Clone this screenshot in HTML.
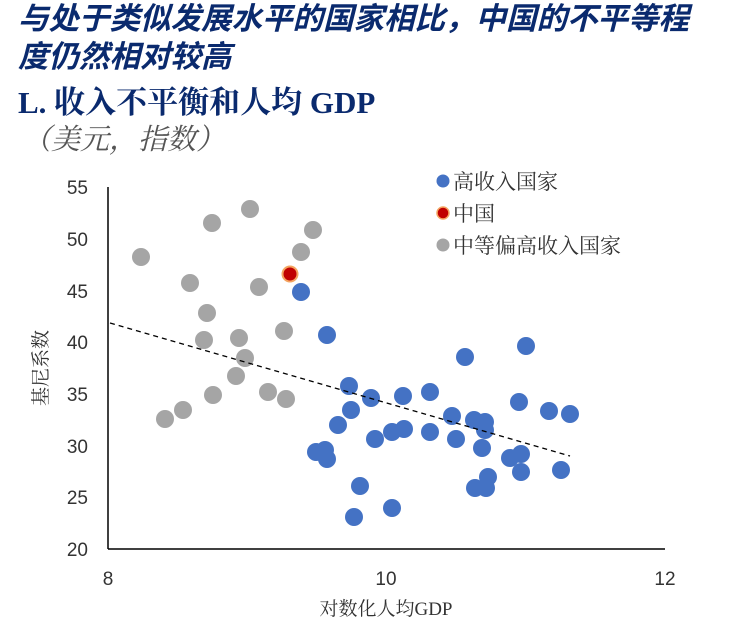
<!DOCTYPE html>
<html><head><meta charset="utf-8"><style>
body{margin:0;background:#fff;width:734px;height:623px;overflow:hidden;font-family:"Liberation Serif","Noto Serif CJK SC",serif}
.t{position:absolute;left:18px;color:#0a2a6e;font-weight:bold;font-style:italic;font-size:30.5px;font-family:"Liberation Sans","Noto Sans CJK SC",sans-serif;white-space:nowrap;line-height:38px}
</style></head><body>
<div class="t" style="top:0px">与处于类似发展水平的国家相比，中国的不平等程</div>
<div class="t" style="top:38px">度仍然相对较高</div>
<div style="position:absolute;left:18px;top:77px;font-size:31px;font-weight:bold;color:#0a2a6e;font-family:'Liberation Serif','Noto Serif CJK SC',serif;white-space:nowrap">L. 收入不平衡和人均 GDP</div>
<div style="position:absolute;left:22px;top:117px;font-size:29px;font-style:italic;color:#555;font-family:'Liberation Serif','Noto Serif CJK SC',serif;white-space:nowrap">（美元，指数）</div>
<svg width="734" height="623" style="position:absolute;left:0;top:0" font-family="Liberation Sans, Noto Sans CJK SC, sans-serif">
<g stroke="#000" stroke-width="1.5"><line x1="108" y1="187" x2="108" y2="549"/><line x1="108" y1="549" x2="665" y2="549"/></g>
<g font-size="19" fill="#333" text-anchor="end">
<text x="88" y="194">55</text><text x="88" y="246">50</text><text x="88" y="298">45</text><text x="88" y="349">40</text><text x="88" y="401">35</text><text x="88" y="453">30</text><text x="88" y="504">25</text><text x="88" y="556">20</text></g>
<g font-size="19" fill="#333" text-anchor="middle"><text x="108" y="585">8</text><text x="386" y="585">10</text><text x="665" y="585">12</text>
<text x="386" y="615" font-size="19" font-family="Liberation Serif, Noto Serif CJK SC, serif">对数化人均GDP</text></g>
<text transform="translate(47,368) rotate(-90)" font-size="19" fill="#333" text-anchor="middle" font-family="Liberation Serif, Noto Serif CJK SC, serif">基尼系数</text>
<g fill="#a5a5a5">
<circle cx="141" cy="257" r="9"/><circle cx="212" cy="223" r="9"/><circle cx="250" cy="209" r="9"/><circle cx="313" cy="230" r="9"/><circle cx="301" cy="252" r="9"/><circle cx="190" cy="283" r="9"/><circle cx="259" cy="287" r="9"/><circle cx="207" cy="313" r="9"/><circle cx="204" cy="340" r="9"/><circle cx="239" cy="338" r="9"/><circle cx="284" cy="331" r="9"/><circle cx="245" cy="358" r="9"/><circle cx="236" cy="376" r="9"/><circle cx="213" cy="395" r="9"/><circle cx="268" cy="392" r="9"/><circle cx="286" cy="399" r="9"/><circle cx="183" cy="410" r="9"/><circle cx="165" cy="419" r="9"/>
</g>
<g fill="#4472c4">
<circle cx="301" cy="292" r="9"/><circle cx="327" cy="335" r="9"/><circle cx="465" cy="357" r="9"/><circle cx="526" cy="346" r="9"/><circle cx="349" cy="386" r="9"/><circle cx="371" cy="398" r="9"/><circle cx="403" cy="396" r="9"/><circle cx="430" cy="392" r="9"/><circle cx="351" cy="410" r="9"/><circle cx="338" cy="425" r="9"/><circle cx="316" cy="452" r="9"/><circle cx="325" cy="450" r="9"/><circle cx="327" cy="459" r="9"/><circle cx="375" cy="439" r="9"/><circle cx="392" cy="432" r="9"/><circle cx="404" cy="429" r="9"/><circle cx="430" cy="432" r="9"/><circle cx="452" cy="416" r="9"/><circle cx="456" cy="439" r="9"/><circle cx="474" cy="420" r="9"/><circle cx="485" cy="422" r="9"/><circle cx="485" cy="430" r="9"/><circle cx="482" cy="448" r="9"/><circle cx="519" cy="402" r="9"/><circle cx="549" cy="411" r="9"/><circle cx="570" cy="414" r="9"/><circle cx="510" cy="458" r="9"/><circle cx="521" cy="454" r="9"/><circle cx="521" cy="472" r="9"/><circle cx="488" cy="477" r="9"/><circle cx="475" cy="488" r="9"/><circle cx="486" cy="488" r="9"/><circle cx="360" cy="486" r="9"/><circle cx="392" cy="508" r="9"/><circle cx="354" cy="517" r="9"/><circle cx="561" cy="470" r="9"/>
</g>
<circle cx="290" cy="274" r="7.5" fill="#c00000" stroke="#f4a460" stroke-width="2"/>
<line x1="110" y1="323" x2="570" y2="456" stroke="#000" stroke-width="1.3" stroke-dasharray="5,4"/>
<g font-size="21" fill="#333" font-family="Liberation Serif, Noto Serif CJK SC, serif">
<circle cx="443" cy="181" r="6.5" fill="#4472c4"/><text x="453" y="189">高收入国家</text>
<circle cx="443" cy="213" r="6" fill="#c00000" stroke="#f4a460" stroke-width="1.5"/><text x="453" y="221">中国</text>
<circle cx="443" cy="245" r="6.5" fill="#a5a5a5"/><text x="453" y="253">中等偏高收入国家</text>
</g>
</svg>
</body></html>
